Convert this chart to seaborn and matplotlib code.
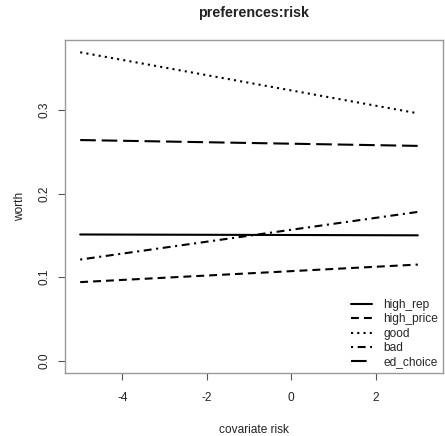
import matplotlib
matplotlib.use("Agg")
import matplotlib.pyplot as plt
import seaborn as sns
import pandas as pd

# Data
covariate = [-5, 3]
items = ["high_rep", "high_price", "good", "bad", "ed_choice"]
high_rep = [0.151, 0.150]
high_price = [0.094, 0.115]
good = [0.369, 0.296]
bad = [0.121, 0.178]
ed_choice = [0.264, 0.257]
x_ticks = [-4, -2, 0, 2]
y_ticks = [0.0, 0.1, 0.2, 0.3]

series = dict(high_rep=high_rep, high_price=high_price, good=good, bad=bad, ed_choice=ed_choice)
rows = []
for name in items:
    for xv, yv in zip(covariate, series[name]):
        rows.append({"risk": xv, "worth": yv, "item": name})
df = pd.DataFrame(rows)

sns.set_style("white")
plt.rcParams["font.family"] = ["Liberation Sans", "DejaVu Sans"]
plt.rcParams["axes.unicode_minus"] = False

W, H = 445, 436
fig = plt.figure(figsize=(W / 100, H / 100), dpi=100)
L, R, T, B = 65, 442.7, 40, 373.3
ax = fig.add_axes([L / W, 1 - B / H, (R - L) / W, (B - T) / H])

dashes = {
    "high_rep": "",
    "high_price": (3.8, 2.4),
    "good": (1, 2),
    "bad": (1, 2.2, 3.8, 2.2),
    "ed_choice": (7.5, 2.8),
}
palette = {k: "black" for k in items}
sns.lineplot(data=df, x="risk", y="worth", hue="item", style="item",
             hue_order=items, style_order=items, palette=palette,
             dashes=dashes, linewidth=1.5, legend=False, ax=ax)

ax.set_xlim(-5.36, 3.59)
ax.set_ylim(-0.0151, 0.3837)
fs = 8.6
ax.set_xticks(x_ticks)
ax.set_xticklabels([str(t) for t in x_ticks], fontsize=fs)
ax.set_yticks(y_ticks)
ax.set_yticklabels([f"{t:.1f}" for t in y_ticks], fontsize=fs, rotation=90, va="center")
ax.tick_params(axis="both", direction="out", length=5.2, width=0.8, color="#555555",
               bottom=True, left=True, labelcolor="#222222")
ax.tick_params(axis="x", pad=8)
ax.tick_params(axis="y", pad=5.5)
for s in ax.spines.values():
    s.set_color("#999999")
    s.set_linewidth(1.0)

ax.set_xlabel("covariate risk", fontsize=fs, labelpad=15, color="#222222")
ax.set_ylabel("worth", fontsize=fs, labelpad=9, color="#222222")
ax.set_title("preferences:risk", fontsize=10.3, fontweight="bold", pad=16.5, color="#222222")

handles = ax.get_lines()[:len(items)]
leg = ax.legend(handles, items, loc="lower right", frameon=False, fontsize=fs,
                handlelength=1.7, handletextpad=0.95, labelspacing=0.2,
                borderaxespad=0.0, bbox_to_anchor=(1.0, 0.0))

fig.savefig("out.png", dpi=100)
